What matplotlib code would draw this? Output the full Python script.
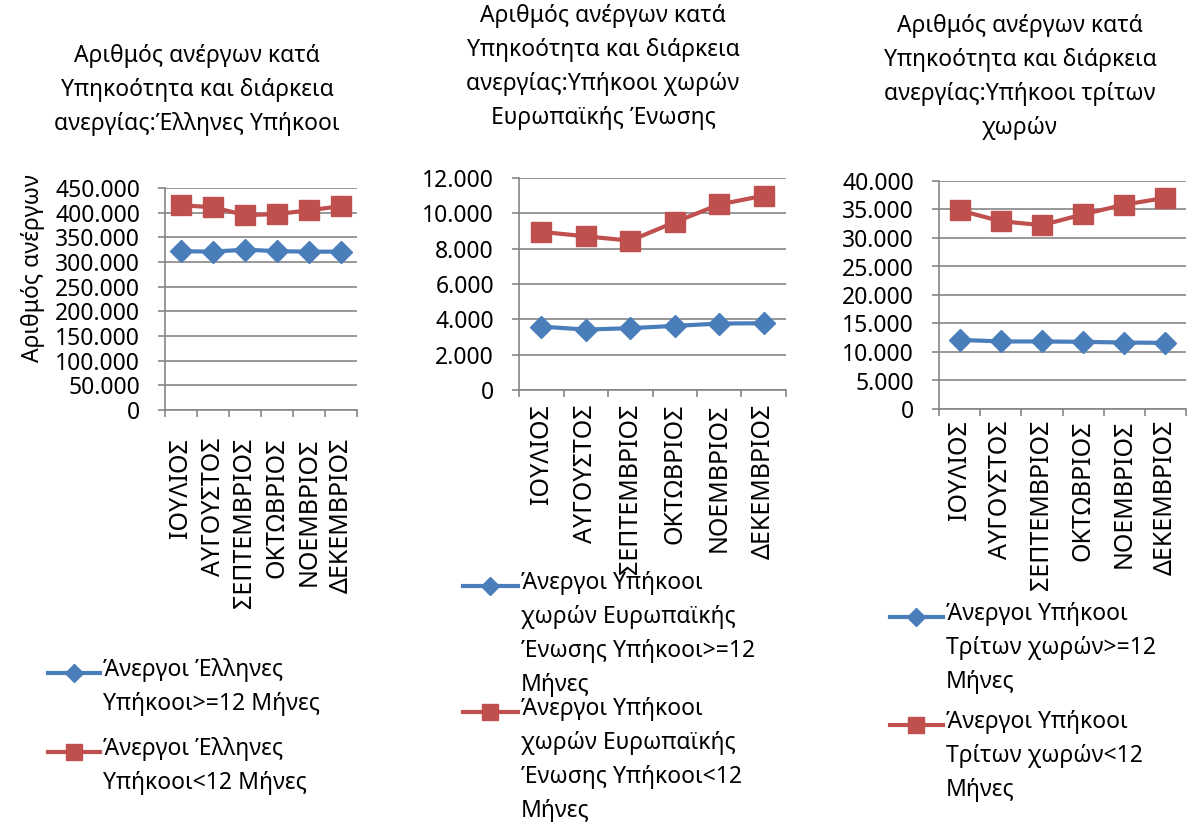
import matplotlib
matplotlib.use("Agg")
import matplotlib.pyplot as plt
from matplotlib.lines import Line2D
from matplotlib.ticker import FuncFormatter

plt.rcParams["font.family"] = ["Noto Sans", "DejaVu Sans"]

W, H = 1188, 822
FS = 16.5
LS = 1.55

months = ["ΙΟΥΛΙΟΣ", "ΑΥΓΟΥΣΤΟΣ", "ΣΕΠΤΕΜΒΡΙΟΣ", "ΟΚΤΩΒΡΙΟΣ", "ΝΟΕΜΒΡΙΟΣ", "ΔΕΚΕΜΒΡΙΟΣ"]

greek_long = [322000, 321000, 325000, 322000, 321000, 321000]
greek_short = [415000, 411000, 395000, 397000, 405000, 413000]

eu_long = [3590, 3420, 3500, 3630, 3760, 3780]
eu_short = [8950, 8700, 8450, 9500, 10500, 11000]

third_long = [12130, 11850, 11850, 11780, 11660, 11600]
third_short = [34850, 32950, 32250, 34150, 35850, 37050]

titles = [
    "Αριθμός ανέργων κατά\nΥπηκοότητα και διάρκεια\nανεργίας:Έλληνες Υπήκοοι",
    "Αριθμός ανέργων κατά\nΥπηκοότητα και διάρκεια\nανεργίας:Υπήκοοι χωρών\nΕυρωπαϊκής Ένωσης",
    "Αριθμός ανέργων κατά\nΥπηκοότητα και διάρκεια\nανεργίας:Υπήκοοι τρίτων\nχωρών",
]
legend_labels = [
    ("Άνεργοι Έλληνες\nΥπήκοοι>=12 Μήνες", "Άνεργοι Έλληνες\nΥπήκοοι<12 Μήνες"),
    ("Άνεργοι Υπήκοοι\nχωρών Ευρωπαϊκής\nΈνωσης Υπήκοοι>=12\nΜήνες",
     "Άνεργοι Υπήκοοι\nχωρών Ευρωπαϊκής\nΈνωσης Υπήκοοι<12\nΜήνες"),
    ("Άνεργοι Υπήκοοι\nΤρίτων χωρών>=12\nΜήνες", "Άνεργοι Υπήκοοι\nΤρίτων χωρών<12\nΜήνες"),
]

BLUE = "#4A7EBB"
RED = "#C0504D"
GRID = "#868686"


def px(x, y):
    return x / W, 1 - y / H


def thousands(v, _):
    return f"{int(round(v)):,}".replace(",", ".")


def _panel(fig, rect_px, long_vals, short_vals, ymax, ystep, xpad):
    l, t, r, b = rect_px
    ax = fig.add_axes([l / W, 1 - b / H, (r - l) / W, (b - t) / H])
    x = list(range(len(months)))
    ax.plot(x, long_vals, color=BLUE, lw=3, marker="D", ms=11.5, zorder=3, clip_on=False)
    ax.plot(x, short_vals, color=RED, lw=3, marker="s", ms=14, zorder=4, clip_on=False)
    ax.set_xlim(-0.5, len(months) - 0.5)
    ax.set_ylim(0, ymax)
    ax.set_yticks(range(0, ymax + 1, ystep))
    ax.yaxis.set_major_formatter(FuncFormatter(thousands))
    ax.set_xticks(x)
    ax.set_xticklabels(months, rotation=90)
    ax.set_xticks([i - 0.5 for i in range(len(months) + 1)], minor=True)
    ax.tick_params(axis="x", which="major", length=0, pad=xpad, labelsize=18)
    ax.tick_params(axis="x", which="minor", length=5, color=GRID, width=1.2)
    ax.tick_params(axis="y", length=5, color=GRID, width=1.2, labelsize=FS, pad=13)
    ax.grid(axis="y", color=GRID, lw=1.2)
    ax.set_axisbelow(True)
    for s in ("top", "right"):
        ax.spines[s].set_visible(False)
    for s in ("left", "bottom"):
        ax.spines[s].set_color(GRID)
        ax.spines[s].set_linewidth(1.2)
    return ax


def _legend_entry(fig, x0, x1, y, color, marker, ms, text):
    xa, ya = px(x0, y)
    xb, _ = px(x1, y)
    fig.add_artist(Line2D([xa, xb], [ya, ya], color=color, lw=3,
                          transform=fig.transFigure))
    fig.add_artist(Line2D([(xa + xb) / 2], [ya], color=color, marker=marker, ms=ms,
                          transform=fig.transFigure))
    tx, ty = px(x1 + 3, y - 15)
    fig.text(tx, ty, text, fontsize=FS, va="top", ha="left", linespacing=LS)


fig = plt.figure(figsize=(W / 100, H / 100), dpi=100)

_panel(fig, (165, 188, 357, 410), greek_long, greek_short, 450000, 50000, 20)
_panel(fig, (519, 178, 786, 390), eu_long, eu_short, 12000, 2000, 10)
_panel(fig, (939, 181, 1186, 409), third_long, third_short, 40000, 5000, 8)

fig.text(*px(33, 268), "Αριθμός ανέργων", rotation=90, fontsize=FS, ha="center", va="center")

for (cx, top), title in zip([(197, 44), (603, 4), (1020, 14)], titles):
    fig.text(*px(cx, top), title, fontsize=FS, ha="center", va="top", linespacing=LS)

_legend_entry(fig, 48, 100, 673, BLUE, "D", 9.5, legend_labels[0][0])
_legend_entry(fig, 48, 100, 752, RED, "s", 12, legend_labels[0][1])
_legend_entry(fig, 463, 518, 586, BLUE, "D", 9.5, legend_labels[1][0])
_legend_entry(fig, 463, 518, 712, RED, "s", 12, legend_labels[1][1])
_legend_entry(fig, 890, 943, 617, BLUE, "D", 9.5, legend_labels[2][0])
_legend_entry(fig, 890, 943, 725, RED, "s", 12, legend_labels[2][1])

fig.savefig("out.png", dpi=100)
